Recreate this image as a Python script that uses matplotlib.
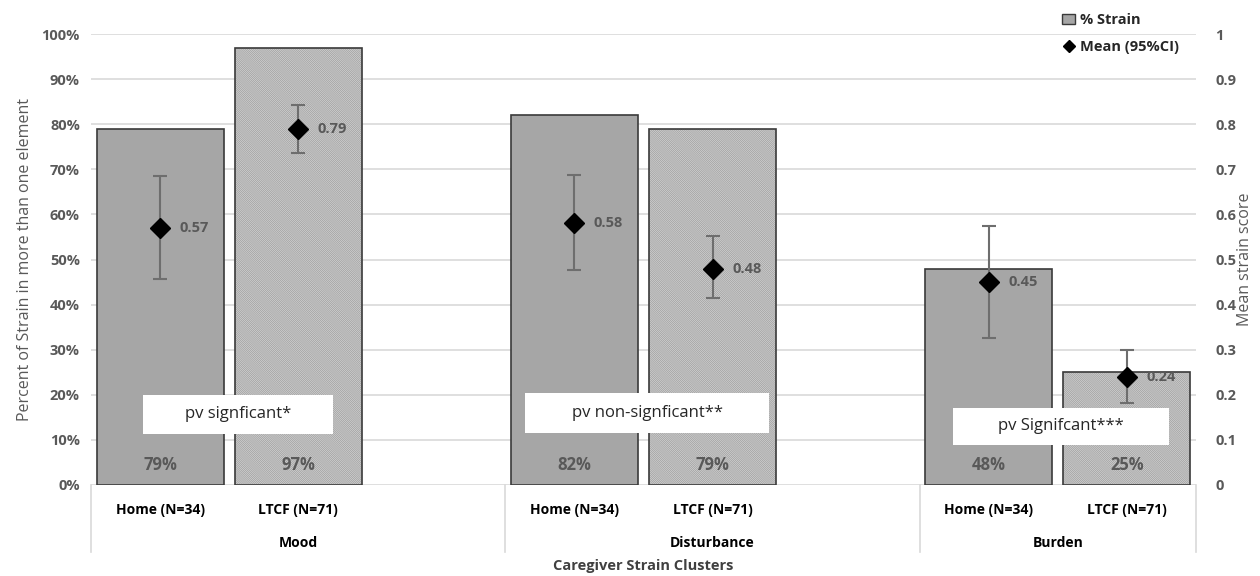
import numpy as np
import matplotlib.pyplot as plt
from matplotlib.patches import Patch, Rectangle
from matplotlib.lines import Line2D
import matplotlib.transforms as mtransforms

plt.rcParams['font.family'] = ['Open Sans', 'DejaVu Sans']
plt.rcParams['hatch.linewidth'] = 0.8

# data
clusters = ["Mood", "Disturbance", "Burden"]
groups = ["Home (N=34)", "LTCF (N=71)"]
pct_home = [79, 82, 48]
pct_ltcf = [97, 79, 25]
mean_home = [0.57, 0.58, 0.45]
mean_ltcf = [0.79, 0.48, 0.24]
ci_home_lo = [0.457, 0.477, 0.326]
ci_home_hi = [0.685, 0.687, 0.574]
ci_ltcf_lo = [0.736, 0.415, 0.182]
ci_ltcf_hi = [0.843, 0.552, 0.300]
pv_notes = ["pv signficant*", "pv non-signficant**", "pv Signifcant***"]

grey_txt = '#595959'
dark = '#404040'

fig = plt.figure(figsize=(12.6, 5.76), dpi=100)
ax = fig.add_axes([91/1260, 91/576, 1105/1260, 451/576])
ax2 = ax.twinx()

x_home = np.arange(len(clusters)) * 3
x_ltcf = x_home + 1
w = 0.92

ax.bar(x_home, pct_home, w, color='#a6a6a6', edgecolor='#3a3a3a', lw=1.2, zorder=2)
# hatch takes the edge colour, so draw fill+hatch first, then the outline
ax.bar(x_ltcf, pct_ltcf, w, color='#eeeeee', edgecolor='#a8a8a8', lw=0,
       hatch='\\' * 16, zorder=2)
ax.bar(x_ltcf, pct_ltcf, w, fill=False, edgecolor='#3a3a3a', lw=1.2, zorder=2)

for xs, vals in [(x_home, pct_home), (x_ltcf, pct_ltcf)]:
    for x, v in zip(xs, vals):
        ax.text(x, 4.5, f"{v}%", ha='center', va='center', fontsize=12,
                fontweight='bold', color=grey_txt, zorder=5)

ax.set_xlim(-0.5, 7.5)
ax.set_ylim(0, 100)
ax.set_yticks(np.arange(0, 101, 10))
ax.set_yticklabels([f"{t}%" for t in range(0, 101, 10)])
ax.grid(axis='y', color='#d9d9d9', lw=1.2, zorder=0)
ax.set_axisbelow(True)
for s in ax.spines.values():
    s.set_visible(False)
for s in ax2.spines.values():
    s.set_visible(False)
ax.tick_params(axis='y', length=0, labelsize=10.5, labelcolor=grey_txt, pad=8)
for lab in ax.get_yticklabels():
    lab.set_fontweight('bold')

ticks = list(x_home) + list(x_ltcf)
ax.set_xticks(ticks)
ax.set_xticklabels([groups[0]] * 3 + [groups[1]] * 3, fontsize=10,
                   fontweight='bold', color='black')
ax.tick_params(axis='x', length=0, pad=13)

# group separators and cluster labels
trans = mtransforms.blended_transform_factory(ax.transData, ax.transAxes)
for xb in [-0.5, 2.5, 5.5, 7.5]:
    ax.plot([xb, xb], [0, -0.149], transform=trans, color='#d9d9d9', lw=1.2, clip_on=False)
centers = [1, 4, 6.5]
for c, name in zip(centers, clusters):
    ax.text(c, -0.128, name, transform=trans, ha='center', va='center',
            fontsize=10, fontweight='bold', color='black')
ax.text(3.5, -0.18, "Caregiver Strain Clusters", transform=trans, ha='center',
        va='center', fontsize=10.5, fontweight='bold', color=dark)
ax.set_ylabel("Percent of Strain in more than one element", fontsize=11.5,
              color=grey_txt, labelpad=6)

# p-value boxes
boxes = [(-0.123, 1.254, 11.3, 20.0), (2.645, 4.406, 11.5, 20.4), (5.739, 7.304, 8.9, 17.1)]
for (x0, x1, y0, y1), note in zip(boxes, pv_notes):
    ax.add_patch(Rectangle((x0, y0), x1 - x0, y1 - y0, facecolor='white',
                           edgecolor='none', zorder=4))
    ax.text((x0 + x1) / 2, (y0 + y1) / 2, note, ha='center', va='center',
            fontsize=12, color='#262626', zorder=5)

# means with CI on secondary axis
for xs, m, lo, hi in [(x_home, mean_home, ci_home_lo, ci_home_hi),
                      (x_ltcf, mean_ltcf, ci_ltcf_lo, ci_ltcf_hi)]:
    m = np.array(m)
    err = [m - np.array(lo), np.array(hi) - m]
    ax2.errorbar(xs, m, yerr=err, fmt='D', color='black', ms=10,
                 ecolor='#6e6e6e', elinewidth=1.5, capsize=5, capthick=1.5, zorder=6)
    for x, v in zip(xs, m):
        ax2.annotate(f"{v:.2f}", (x, v), xytext=(14, 0), textcoords='offset points',
                     ha='left', va='center', fontsize=10.5, fontweight='bold',
                     color=grey_txt, zorder=7)

ax2.set_ylim(0, 1)
ax2.set_yticks(np.arange(0, 1.01, 0.1))
ax2.set_yticklabels(["0", "0.1", "0.2", "0.3", "0.4", "0.5", "0.6", "0.7", "0.8", "0.9", "1"])
ax2.tick_params(axis='y', length=0, labelsize=10.5, labelcolor=grey_txt, pad=14)
for lab in ax2.get_yticklabels():
    lab.set_fontweight('bold')
fig.text(1245/1260, 0.55, "Mean strain score", rotation=90, ha='center', va='center',
         fontsize=11.5, color=grey_txt)

handles = [Patch(facecolor='#a6a6a6', edgecolor='#3a3a3a', label='% Strain'),
           Line2D([], [], marker='D', color='black', ls='none', ms=6, label='Mean (95%CI)')]
leg = fig.legend(handles=handles, loc='upper right', bbox_to_anchor=(1192/1260, 1.0),
                 frameon=False, prop={'weight': 'bold', 'size': 10.5},
                 handlelength=0.9, handletextpad=0.3, labelspacing=0.9)
for t in leg.get_texts():
    t.set_color('#262626')

fig.savefig("out.png", dpi=100)
